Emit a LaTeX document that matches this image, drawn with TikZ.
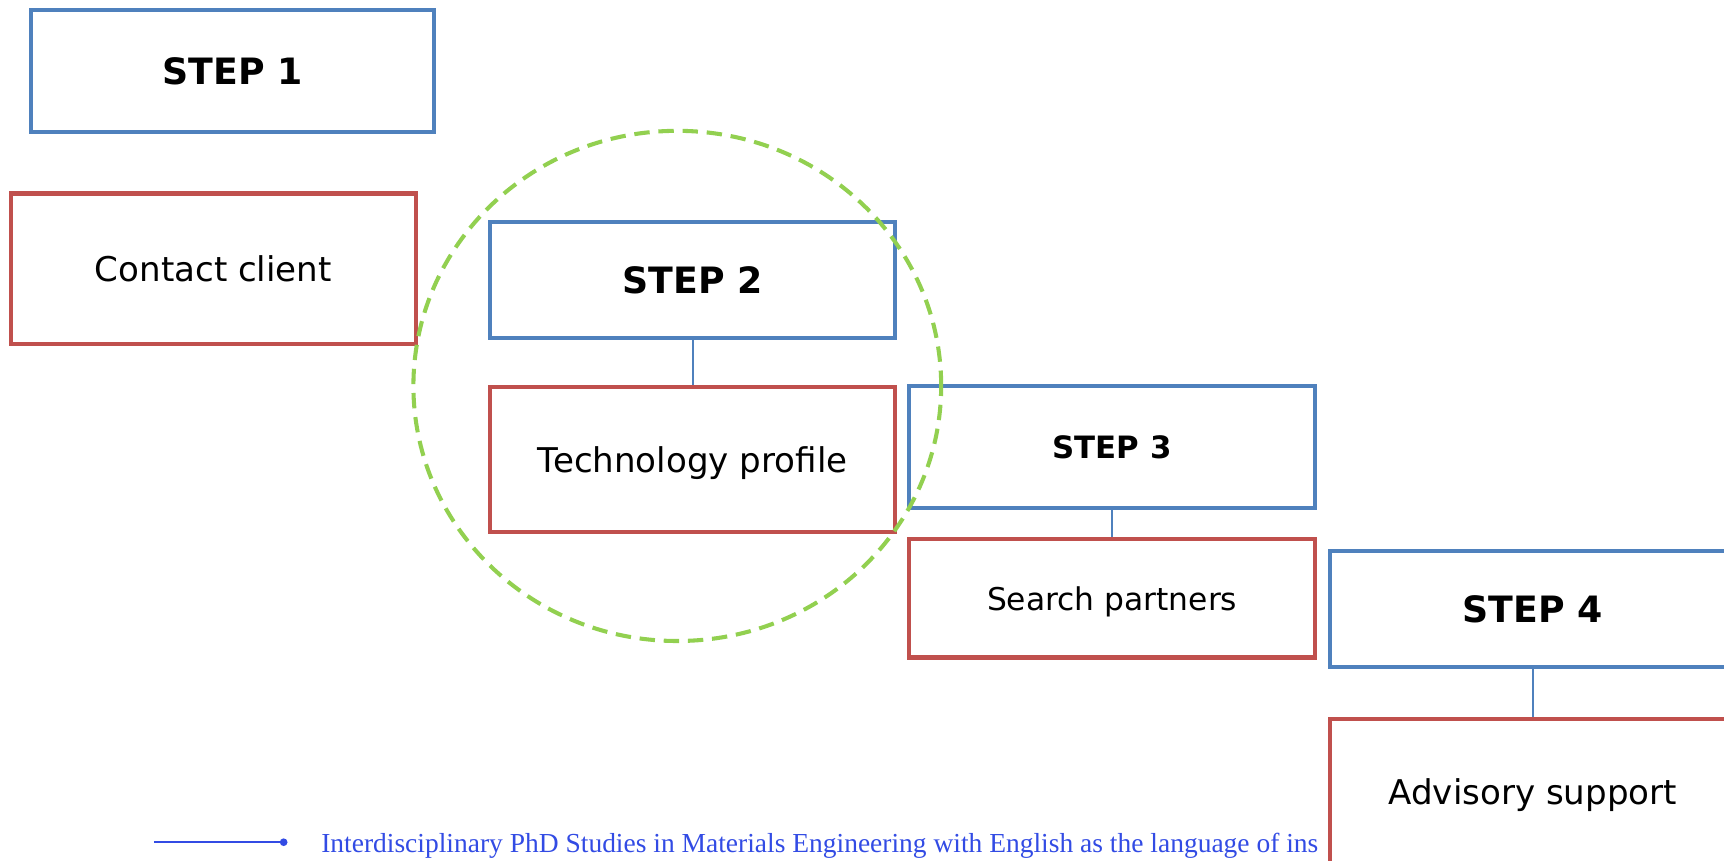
\documentclass[tikz,border=0pt]{standalone}
\usepackage{fontspec}
\usetikzlibrary{shapes.geometric}
\setmainfont{DejaVu Sans}
\newfontfamily\footfont{Liberation Serif}
\definecolor{stepblue}{RGB}{79,129,189}
\definecolor{taskred}{RGB}{192,80,77}
\definecolor{ringgreen}{RGB}{146,208,80}
\definecolor{footblue}{RGB}{50,75,228}
\begin{document}
\begin{tikzpicture}[x=1pt,y=-1pt,
  stepbox/.style={draw=stepblue,line width=3.7pt,fill=white,inner sep=0pt,
    font=\bfseries\fontsize{33}{40}\selectfont},
  taskbox/.style={draw=taskred,line width=3.7pt,fill=white,inner sep=0pt,text depth=0pt,
    font=\fontsize{31}{37}\selectfont},
  link/.style={draw=stepblue,line width=1.8pt},
  ring/.style={draw=ringgreen,line width=3.7pt,dash pattern=on 14pt off 8pt}]
\useasboundingbox (0,0) rectangle (1568,783);
\clip (0,0) rectangle (1568,783);
% footer
\coordinate (fa) at (140,766);
\coordinate (fb) at (258,766);
\draw[footblue,line width=1.8pt] (fa) -- (fb);
\fill[footblue] (fb) circle (3.5pt);
\node[anchor=base west,inner sep=0pt,text=footblue,font=\footfont\fontsize{25}{30}\selectfont] (foot) at (292,775)
  {Interdisciplinary PhD Studies in Materials Engineering with English as the language of ins};
% boxes
\node[stepbox,minimum width=367pt,minimum height=111pt] (s1) at (211.5,64.5) {STEP 1};
\node[taskbox,minimum width=368pt,minimum height=137pt] (c1) at (194,244.5) {Contact client};
\node[stepbox,minimum width=368pt,minimum height=105pt] (s2) at (630,254.5) {STEP 2};
\node[taskbox,minimum width=368pt,minimum height=132pt] (c2) at (630,418) {Technology profile};
\node[stepbox,minimum width=369pt,minimum height=111pt,font=\bfseries\fontsize{28}{34}\selectfont] (s3) at (1011.5,406.5) {STEP 3};
\node[taskbox,minimum width=369pt,minimum height=108pt,font=\fontsize{28.5}{34}\selectfont] (c3) at (1011.5,544) {Search partners};
\node[stepbox,minimum width=368pt,minimum height=106pt] (s4) at (1394,554) {STEP 4};
\node[taskbox,minimum width=368pt,minimum height=132pt] (c4) at (1394,720) {Advisory support};
% links
\draw[link] (s2.south) -- (c2.north);
\draw[link] (s3.south) -- (c3.north);
\draw[link] (s4.south) -- (c4.north);
% ring
\node[ring,ellipse,minimum width=480pt,minimum height=464pt,inner sep=0pt] (r) at (616,351) {};
\end{tikzpicture}
\end{document}
